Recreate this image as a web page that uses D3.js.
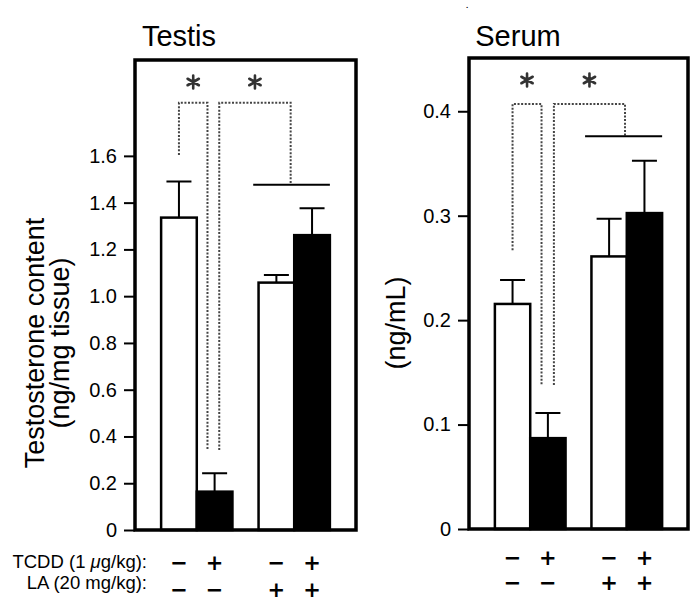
<!DOCTYPE html>
<html>
<head>
<meta charset="utf-8">
<script src="https://cdn.jsdelivr.net/npm/d3@7/dist/d3.min.js"></script>
<style>
  html, body { margin: 0; padding: 0; background: #fff; }
  svg { display: block; font-family: "Liberation Sans", Arial, Helvetica, sans-serif; }
</style>
</head>
<body>
<svg id="chart" width="696" height="604"></svg>
<script>
// ---- Data ----
const groups = ["noLA", "LA"];
const innerKeys = ["noTCDD", "TCDD"];
const tcddSigns = ["\u2212", "+", "\u2212", "+"];
const laSigns = ["\u2212", "\u2212", "+", "+"];
const barFills = ["white", "black", "white", "black"];

const testisValues = [1.336, 0.164, 1.058, 1.261];
const testisErrors = [0.154, 0.079, 0.032, 0.115];
const testisTicks = [0, 0.2, 0.4, 0.6, 0.8, 1.0, 1.2, 1.4, 1.6];

const serumValues = [0.2155, 0.087, 0.261, 0.3025];
const serumErrors = [0.023, 0.024, 0.036, 0.050];
const serumTicks = [0, 0.1, 0.2, 0.3, 0.4];

// ---- Layout ----
const svg = d3.select("#chart");
const FONT = '"Liberation Sans", Arial, Helvetica, sans-serif';

const panels = [
  {
    title: "Testis", titleX: 179, values: testisValues, errors: testisErrors, ticks: testisTicks,
    x0: 135, x1: 356, y0: 60, y1: 530, yMax: 2.01,
    ylabel: ["Testosterone content", "(ng/mg tissue)"], ylabelX: [44, 69], ylabelY: 343,
    br1: { l: [0, 0.5], r: [1, 0.3], lBot: 1.604, rBot: 0.342 },
    br2: { l: [1, 0.63], r: [2, 0.9], lBot: 0.342, rBot: 1.476 },
    topY: 1.827,
    line: { from: [2, -0.15], to: [3, 1.0] },
    signRows: [570, 597]
  },
  {
    title: "Serum", titleX: 518, values: serumValues, errors: serumErrors, ticks: serumTicks,
    x0: 469, x1: 688, y0: 58, y1: 529, yMax: 0.451,
    ylabel: ["(ng/mL)"], ylabelX: [405], ylabelY: 323,
    br1: { l: [0, 0.5], r: [1, 0.32], lBot: 0.267, rBot: 0.138 },
    br2: { l: [1, 0.67], r: [2, 0.95], lBot: 0.138, rBot: 0.376 },
    topY: 0.407,
    line: { from: [2, -0.18], to: [3, 1.0] },
    signRows: [565, 590]
  }
];

const pad = 0.268;
const fmt = d => d === 0 ? "0" : d3.format(".1f")(d);

function asteriskPath(cx, cy, r) {
  let p = "";
  for (let k = 0; k < 3; k++) {
    const a = Math.PI / 2 + k * Math.PI / 3;
    const dx = r * Math.cos(a), dy = r * Math.sin(a);
    p += `M${cx - dx},${cy - dy}L${cx + dx},${cy + dy}`;
  }
  return p;
}

panels.forEach(P => {
  const g = svg.append("g");
  const y = d3.scaleLinear().domain([0, P.yMax]).range([P.y1, P.y0]);
  const xg = d3.scaleBand().domain(groups).range([P.x0, P.x1]).paddingInner(pad).paddingOuter(pad);
  const xi = d3.scaleBand().domain(innerKeys).range([0, xg.bandwidth()]);
  const barLeft = i => xg(groups[Math.floor(i / 2)]) + xi(innerKeys[i % 2]);
  const bw = xi.bandwidth();
  const xAt = ([i, f]) => barLeft(i) + f * bw;

  // title
  g.append("text").attr("x", P.titleX).attr("y", 46).attr("text-anchor", "middle")
    .attr("font-size", 29).attr("fill", "#000").text(P.title);

  // y axis
  const axis = d3.axisLeft(y).tickValues(P.ticks).tickFormat(fmt).tickSize(11).tickPadding(7);
  const ag = g.append("g").attr("transform", `translate(${P.x0},0)`).call(axis);
  ag.select(".domain").remove();
  ag.selectAll(".tick line").attr("stroke", "#000").attr("stroke-width", 2);
  ag.selectAll(".tick text").attr("font-size", 20).attr("font-family", FONT).attr("fill", "#000");

  // y label
  P.ylabel.forEach((t, k) => {
    g.append("text")
      .attr("transform", `translate(${P.ylabelX[k]},${P.ylabelY}) rotate(-90)`)
      .attr("text-anchor", "middle").attr("font-size", 27).attr("fill", "#000").text(t);
  });

  const idx = d3.range(P.values.length);
  // error bars
  const capW = 25;
  g.selectAll(".err").data(idx).join("path")
    .attr("d", i => {
      const cx = barLeft(i) + bw / 2;
      const top = y(P.values[i] + P.errors[i]);
      return `M${cx},${y(P.values[i])}V${top}M${cx - capW / 2},${top}H${cx + capW / 2}`;
    })
    .attr("stroke", "#000").attr("stroke-width", 2).attr("fill", "none");

  // bars
  g.selectAll(".bar").data(idx).join("rect")
    .attr("x", i => barLeft(i))
    .attr("y", i => y(P.values[i]))
    .attr("width", bw)
    .attr("height", i => y(0) - y(P.values[i]))
    .attr("fill", i => barFills[i])
    .attr("stroke", "#000").attr("stroke-width", 2.5);

  // frame
  g.append("rect").attr("x", P.x0).attr("y", P.y0)
    .attr("width", P.x1 - P.x0).attr("height", P.y1 - P.y0)
    .attr("fill", "none").attr("stroke", "#000").attr("stroke-width", 3.5);

  // dotted brackets + asterisks
  [P.br1, P.br2].forEach(b => {
    const xl = xAt(b.l), xr = xAt(b.r);
    g.append("path")
      .attr("d", `M${xl},${y(b.lBot)}V${y(P.topY)}H${xr}V${y(b.rBot)}`)
      .attr("fill", "none").attr("stroke", "#444").attr("stroke-width", 2)
      .attr("stroke-dasharray", "2,1.6");
    g.append("path")
      .attr("d", asteriskPath((xl + xr) / 2, P.y0 + 22, 6.5))
      .attr("stroke", "#333").attr("stroke-width", 2.6).attr("stroke-linecap", "round");
  });

  // solid line over LA group
  g.append("path")
    .attr("d", `M${xAt(P.line.from)},${y(P.br2.rBot)}H${xAt(P.line.to)}`)
    .attr("stroke", "#000").attr("stroke-width", 2);

  // +/- signs
  [tcddSigns, laSigns].forEach((row, r) => {
    g.selectAll(null).data(idx).join("text")
      .attr("x", i => barLeft(i) + bw / 2)
      .attr("y", P.signRows[r])
      .attr("text-anchor", "middle").attr("font-size", 21).attr("font-weight", "bold")
      .attr("font-family", '"DejaVu Sans", sans-serif').attr("fill", "#000")
      .text(i => row[i]);
  });
});

// row labels
const rl = svg.append("g").attr("font-size", 18.5).attr("fill", "#000").attr("text-anchor", "end");
const t1 = rl.append("text").attr("x", 147).attr("y", 568);
t1.append("tspan").text("TCDD (1 ");
t1.append("tspan").attr("font-style", "italic").text("\u03bc");
t1.append("tspan").text("g/kg):");
rl.append("text").attr("x", 147).attr("y", 589).text("LA (20 mg/kg):");

// small stray mark at top
svg.append("text").attr("x", 466).attr("y", 8).attr("font-size", 8).attr("font-weight", "bold")
  .attr("fill", "#000").text(".");
</script>
</body>
</html>
